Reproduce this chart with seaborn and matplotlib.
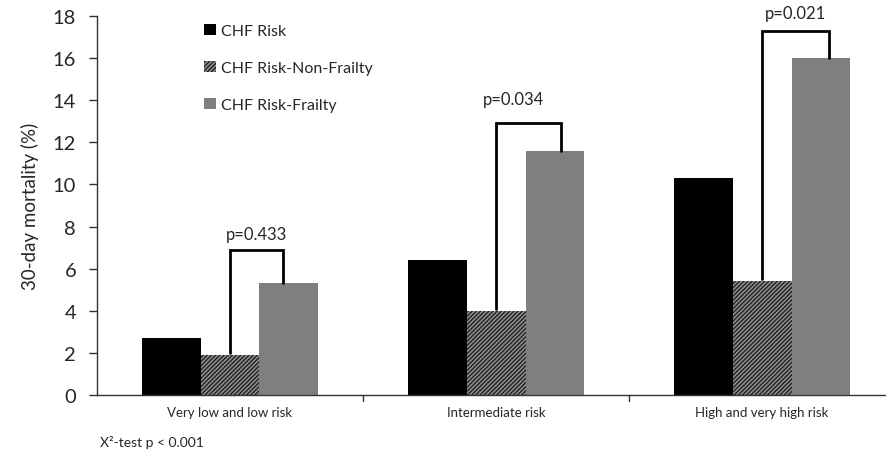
import matplotlib
matplotlib.use("Agg")
import matplotlib.pyplot as plt
import seaborn as sns
import pandas as pd
from matplotlib.patches import Patch

categories = ["Very low and low risk", "Intermediate risk", "High and very high risk"]
series = ["CHF Risk", "CHF Risk-Non-Frailty", "CHF Risk-Frailty"]
chf_risk = [2.7, 6.4, 10.3]
non_frailty = [1.9, 4.0, 5.4]
frailty = [5.3, 11.6, 16.0]
p_labels = ["p=0.433", "p=0.034", "p=0.021"]
bracket_tops = [6.9, 12.9, 17.3]
p_label_y = [7.65, 14.05, 18.15]
y_ticks = [0, 2, 4, 6, 8, 10, 12, 14, 16, 18]

rows = []
for vals, name in zip([chf_risk, non_frailty, frailty], series):
    for cat, v in zip(categories, vals):
        rows.append({"category": cat, "series": name, "value": v})
df = pd.DataFrame(rows)

sns.set_style("white")
plt.rcParams["font.family"] = ["Lato", "DejaVu Sans"]
plt.rcParams["hatch.linewidth"] = 0.9

colors = {"CHF Risk": "#000000", "CHF Risk-Non-Frailty": "#8c8c8c", "CHF Risk-Frailty": "#7f7f7f"}

fig = plt.figure(figsize=(8.86, 4.56), dpi=100)
ax = fig.add_axes([97 / 886, 1 - 396 / 456, 1 - 97 / 886, (396 - 17) / 456])

sns.barplot(data=df, x="category", y="value", hue="series", hue_order=series,
            order=categories, palette=colors, width=0.665, saturation=1,
            edgecolor="none", linewidth=0, legend=False, ax=ax)

# dense diagonal hatching on the non-frailty bars
for bar in ax.containers[1]:
    bar.set_hatch("////////")
    bar.set_edgecolor("#1a1a1a")
    bar.set_linewidth(0)

ax.set_ylim(0, 18)
ax.set_xlim(-0.5, 2.466)
ax.set_yticks(y_ticks)
ax.set_yticklabels([str(t) for t in y_ticks], fontsize=14.5)
ax.set_xticks(range(len(categories)))
ax.set_xticklabels(categories, fontsize=9.5)
ax.tick_params(axis="x", length=0, pad=8)
ax.tick_params(axis="y", length=6, width=1, color="#333333", direction="out", left=True, pad=9)
ax.set_xlabel("")
ax.set_ylabel("30-day mortality (%)", fontsize=13.5, labelpad=10)

# boundary ticks on the category axis
for b in [0.5, 1.5]:
    ax.plot([b, b], [0, -0.3], color="#333333", lw=1, clip_on=False)

for side in ["top", "right"]:
    ax.spines[side].set_visible(False)
for side in ["left", "bottom"]:
    ax.spines[side].set_color("#333333")
    ax.spines[side].set_linewidth(1)

# significance brackets between non-frailty and frailty bars
bracket_right_frac = [0.4, 0.6, 0.64]
label_shift = [0.0, -0.055, 0.0]
for i in range(len(categories)):
    left_bar = ax.containers[1][i]
    right_bar = ax.containers[2][i]
    xl = left_bar.get_x() + left_bar.get_width() / 2
    xr = right_bar.get_x() + right_bar.get_width() * bracket_right_frac[i]
    top = bracket_tops[i]
    ax.plot([xl, xl, xr, xr], [non_frailty[i] + 0.1, top, top, frailty[i]],
            color="black", lw=2, solid_joinstyle="miter", clip_on=False)
    ax.text((xl + xr) / 2 + label_shift[i], p_label_y[i], p_labels[i],
            ha="center", va="center", fontsize=12, clip_on=False)

handles = [Patch(facecolor="#000000", edgecolor="none"),
           Patch(facecolor="#8c8c8c", edgecolor="#1a1a1a", hatch="////////", linewidth=0),
           Patch(facecolor="#7f7f7f", edgecolor="none")]
ax.legend(handles, series, loc="upper left", bbox_to_anchor=(0.118, 1.017), frameon=False,
          fontsize=11.5, handlelength=0.7, handleheight=0.7, handletextpad=0.35,
          labelspacing=1.42)

fig.text(100 / 886, 1 - 443 / 456, "X²-test p < 0.001", fontsize=10, va="center", ha="left")

fig.savefig("out.png", dpi=100)
